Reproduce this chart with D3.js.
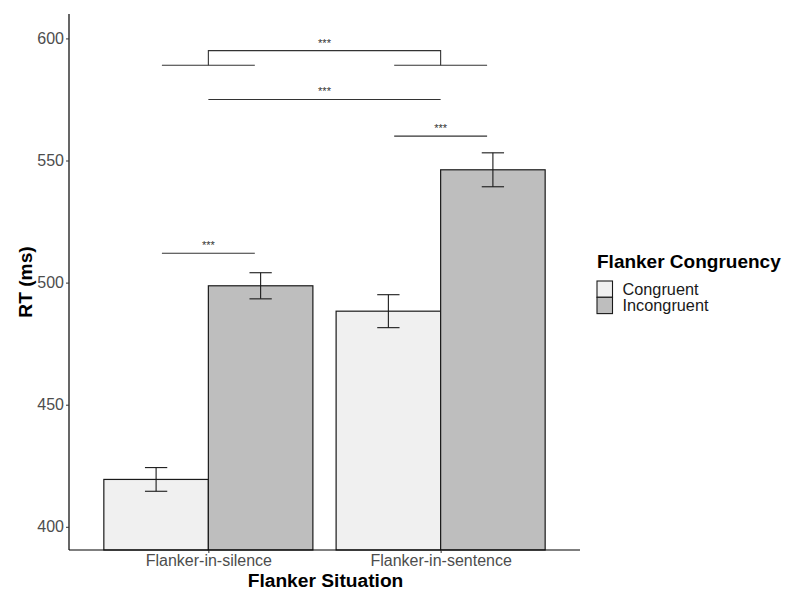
<!DOCTYPE html>
<html>
<head>
<meta charset="utf-8">
<script src="https://cdn.jsdelivr.net/npm/d3@7"></script>
<style>
  body { margin: 0; background: #fff; }
  text { font-family: "Liberation Sans", Arial, sans-serif; }
</style>
</head>
<body>
<div id="chart"></div>
<script>
// data
var situations = ["Flanker-in-silence", "Flanker-in-sentence"];
var congruency = ["Congruent", "Incongruent"];
var rtCongruent = [419.4, 488.3];
var rtIncongruent = [498.7, 546.2];
var seCongruent = [4.85, 6.75];
var seIncongruent = [5.35, 6.95];
var yTicks = [400, 450, 500, 550, 600];
// significance brackets: [x1, x2, y] in band units (1 = first situation)
var sigLines = [
  [0.8, 1.2, 512],
  [1.8, 2.2, 560],
  [1.0, 2.0, 575]
];
var sigBracket = { x1: 1.0, x2: 2.0, yTop: 595, yFoot: 589, foot: [[0.8, 1.2], [1.8, 2.2]] };

var W = 786, H = 592;
var pLeft = 69, pRight = 580, pTop = 14, pBottom = 550;

var svg = d3.select("#chart").append("svg")
  .attr("width", W).attr("height", H);

// ggplot style discrete scale (positions 1,2 with 0.6 expansion)
var x = d3.scaleLinear().domain([0.4, 2.6]).range([pLeft, pRight]);
var y = d3.scaleLinear().domain([390.5, 610]).range([pBottom, pTop]);

var fills = { Congruent: "#f0f0f0", Incongruent: "#bebebe" };
var barW = 0.45;

var bars = [];
situations.forEach(function (s, i) {
  bars.push({ sit: s, cong: "Congruent", pos: i + 1 - barW / 2, v: rtCongruent[i], se: seCongruent[i] });
  bars.push({ sit: s, cong: "Incongruent", pos: i + 1 + barW / 2, v: rtIncongruent[i], se: seIncongruent[i] });
});

// bars
svg.selectAll("rect.bar")
  .data(bars)
  .enter()
  .append("rect")
  .attr("class", "bar")
  .attr("x", d => x(d.pos - barW / 2))
  .attr("width", d => x(d.pos + barW / 2) - x(d.pos - barW / 2))
  .attr("y", d => y(d.v))
  .attr("height", d => pBottom - y(d.v))
  .attr("fill", d => fills[d.cong])
  .attr("stroke", "#1a1a1a")
  .attr("stroke-width", 1.2);

// error bars
var capW = 0.048;
var eb = svg.append("g").attr("stroke", "#1a1a1a").attr("stroke-width", 1.1).attr("fill", "none");
bars.forEach(function (d) {
  eb.append("line").attr("x1", x(d.pos)).attr("x2", x(d.pos))
    .attr("y1", y(d.v - d.se)).attr("y2", y(d.v + d.se));
  eb.append("line").attr("x1", x(d.pos - capW)).attr("x2", x(d.pos + capW))
    .attr("y1", y(d.v - d.se)).attr("y2", y(d.v - d.se));
  eb.append("line").attr("x1", x(d.pos - capW)).attr("x2", x(d.pos + capW))
    .attr("y1", y(d.v + d.se)).attr("y2", y(d.v + d.se));
});

// significance lines
var sg = svg.append("g").attr("stroke", "#333").attr("stroke-width", 1.1).attr("fill", "none");
function star(xc, yv) {
  svg.append("text")
    .attr("x", x(xc)).attr("y", y(yv) - 4)
    .attr("text-anchor", "middle")
    .attr("font-size", "11px")
    .attr("fill", "#333")
    .text("***");
}
sigLines.forEach(function (l) {
  sg.append("line").attr("x1", x(l[0])).attr("x2", x(l[1]))
    .attr("y1", y(l[2])).attr("y2", y(l[2]));
  star((l[0] + l[1]) / 2, l[2]);
});
sg.append("path")
  .attr("d", "M" + x(sigBracket.x1) + "," + y(sigBracket.yFoot) +
    "V" + y(sigBracket.yTop) + "H" + x(sigBracket.x2) + "V" + y(sigBracket.yFoot));
sigBracket.foot.forEach(function (f) {
  sg.append("line").attr("x1", x(f[0])).attr("x2", x(f[1]))
    .attr("y1", y(sigBracket.yFoot)).attr("y2", y(sigBracket.yFoot));
});
star((sigBracket.x1 + sigBracket.x2) / 2, sigBracket.yTop);

// axes
var yAxis = d3.axisLeft(y).tickValues(yTicks).tickSize(3).tickPadding(2);
var gy = svg.append("g").attr("transform", "translate(" + pLeft + ",0)").call(yAxis);
gy.select(".domain").attr("d", "M0," + pTop + "V" + pBottom).attr("stroke", "#000").attr("stroke-width", 1.2);
gy.selectAll(".tick line").attr("stroke", "#333");
gy.selectAll(".tick text").attr("font-size", "16px").attr("fill", "#4d4d4d")
  .style("font-family", "'Liberation Sans', Arial, sans-serif");

var xAxis = d3.axisBottom(x).tickValues([1, 2]).tickFormat((d, i) => situations[i]).tickSize(3).tickPadding(2);
var gx = svg.append("g").attr("transform", "translate(0," + pBottom + ")").call(xAxis);
gx.select(".domain").attr("d", "M" + pLeft + ",0H" + pRight).attr("stroke", "#000").attr("stroke-width", 1.2);
gx.selectAll(".tick line").attr("stroke", "#333");
gx.selectAll(".tick text").attr("font-size", "16px").attr("fill", "#4d4d4d")
  .style("font-family", "'Liberation Sans', Arial, sans-serif");

// axis titles
svg.append("text")
  .attr("x", (pLeft + pRight) / 2 + 1).attr("y", 587)
  .attr("text-anchor", "middle")
  .attr("font-size", "19.2px").attr("font-weight", "bold")
  .text("Flanker Situation");

svg.append("text")
  .attr("transform", "translate(32," + (pTop + pBottom) / 2 + ") rotate(-90)")
  .attr("text-anchor", "middle")
  .attr("font-size", "19.2px").attr("font-weight", "bold")
  .text("RT (ms)");

// legend
var lg = svg.append("g").attr("transform", "translate(597,0)");
lg.append("text").attr("x", 0).attr("y", 268)
  .attr("font-size", "19px").attr("font-weight", "bold")
  .text("Flanker Congruency");
congruency.forEach(function (c, i) {
  lg.append("rect").attr("x", 0).attr("y", 281 + i * 16.3)
    .attr("width", 15.5).attr("height", 16.3)
    .attr("fill", fills[c]).attr("stroke", "#1a1a1a").attr("stroke-width", 1.1);
  lg.append("text").attr("x", 25.5).attr("y", 281 + i * 16.3 + 14)
    .attr("font-size", "16.3px").attr("fill", "#1a1a1a")
    .text(c);
});
</script>
</body>
</html>
